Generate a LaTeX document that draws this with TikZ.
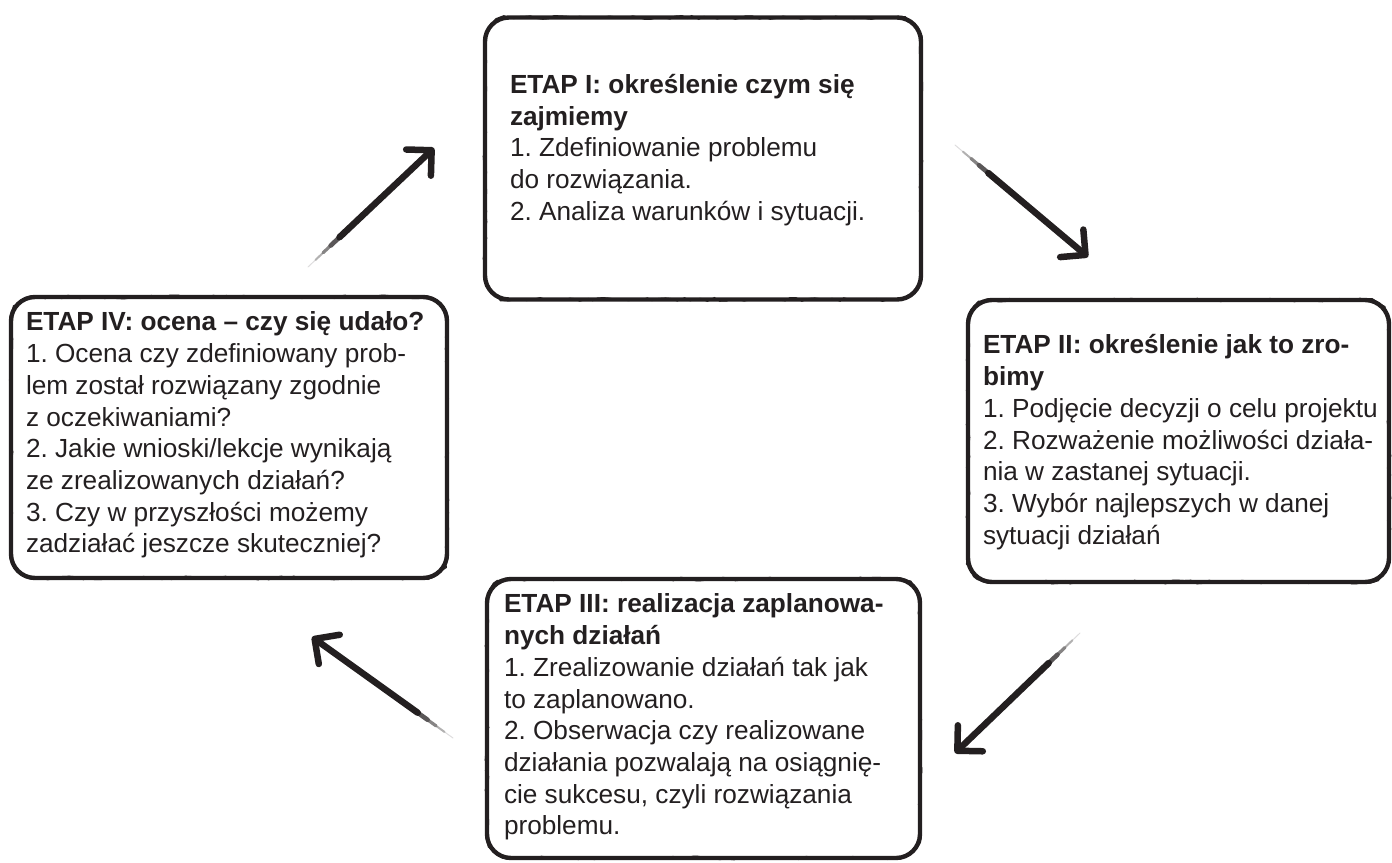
\documentclass[tikz,border=0pt]{standalone}
\usepackage{fontspec}
\setmainfont{Liberation Sans}
\usetikzlibrary{arrows.meta,calc,positioning,decorations.pathmorphing}
\definecolor{ink}{HTML}{231F20}

\newcommand{\brushto}[2]{%
  \foreach \a/\b/\w/\g in {0/0.08/1/15,0.06/0.14/2/35,0.12/0.2/3.2/55,0.18/0.27/4.6/75}
    \draw[ink!\g,line width=\w pt,line cap=round] ($(#1)!\a!(#2)$) -- ($(#1)!\b!(#2)$);
  \draw[brush,-{Straight Barb[length=18pt,width=36pt,round]}] ($(#1)!0.25!(#2)$) -- (#2);
}

\begin{document}
\begin{tikzpicture}[x=1pt,y=-1pt,
  stagebox/.style={draw=ink,line width=4.4pt,rounded corners=24pt,inner sep=0pt,
    minimum width=436pt,minimum height=282pt,
    postaction={draw=ink,line width=1.3pt,sharp corners,decorate,
      decoration={random steps,segment length=6pt,amplitude=1.8pt}}},
  stagetext/.style={anchor=north west,inner sep=0pt,align=left,text=ink,
    font=\fontsize{26.2}{31.7}\selectfont\frenchspacing},
  brush/.style={draw=ink,line width=6.5pt,line cap=round}]
\useasboundingbox (0,0) rectangle (1392,862);
\pgfmathsetseed{7}

% boxes
\node[stagebox] at (703,158.5) (s1) {};
\node[stagebox,minimum width=421pt] at (1178.5,441) (s2) {};
\node[stagebox,minimum width=433pt,minimum height=279pt] at (703.5,718.5) (s3) {};
\node[stagebox,minimum height=281pt] at (229,437.5) (s4) {};

% texts
\node[stagetext] at ([shift={(27,55.8)}]s1.north west) (t1)
  {\strut\textbf{ETAP I: określenie czym się}\\ \textbf{zajmiemy}\\
   1. Zdefiniowanie problemu\\ do rozwiązania.\\ 2. Analiza warunków i sytuacji.};
\node[stagetext] at ([shift={(17,33.8)}]s2.north west) (t2)
  {\strut\textbf{ETAP II: określenie jak to zro-}\\ \textbf{bimy}\\
   1. Podjęcie decyzji o celu projektu\\ 2. Rozważenie możliwości działa-\\
   nia w zastanej sytuacji.\\ 3. Wybór najlepszych w danej\\ sytuacji działań};
\node[stagetext] at ([shift={(19,13.8)}]s3.north west) (t3)
  {\strut\textbf{ETAP III: realizacja zaplanowa-}\\ \textbf{nych działań}\\
   1. Zrealizowanie działań tak jak\\ to zaplanowano.\\
   2. Obserwacja czy realizowane\\ działania pozwalają na osiągnię-\\
   cie sukcesu, czyli rozwiązania\\ problemu.};
\node[stagetext] at ([shift={(17,13.8)}]s4.north west) (t4)
  {\strut\textbf{ETAP IV: ocena – czy się udało?}\\
   1. Ocena czy zdefiniowany prob-\\ lem został rozwiązany zgodnie\\
   z oczekiwaniami?\\ 2. Jakie wnioski/lekcje wynikają\\
   ze zrealizowanych działań?\\ 3. Czy w przyszłości możemy\\
   zadziałać jeszcze skuteczniej?};

% arrows
\coordinate (a41) at (308,267); \coordinate (b41) at (434,148);
\coordinate (a12) at (955,145); \coordinate (b12) at (1088,257);
\coordinate (a23) at (1080,633); \coordinate (b23) at (955,753);
\coordinate (a34) at (453,738); \coordinate (b34) at (312,637);
\brushto{a41}{b41}
\brushto{a12}{b12}
\brushto{a23}{b23}
\brushto{a34}{b34}
\end{tikzpicture}
\end{document}
